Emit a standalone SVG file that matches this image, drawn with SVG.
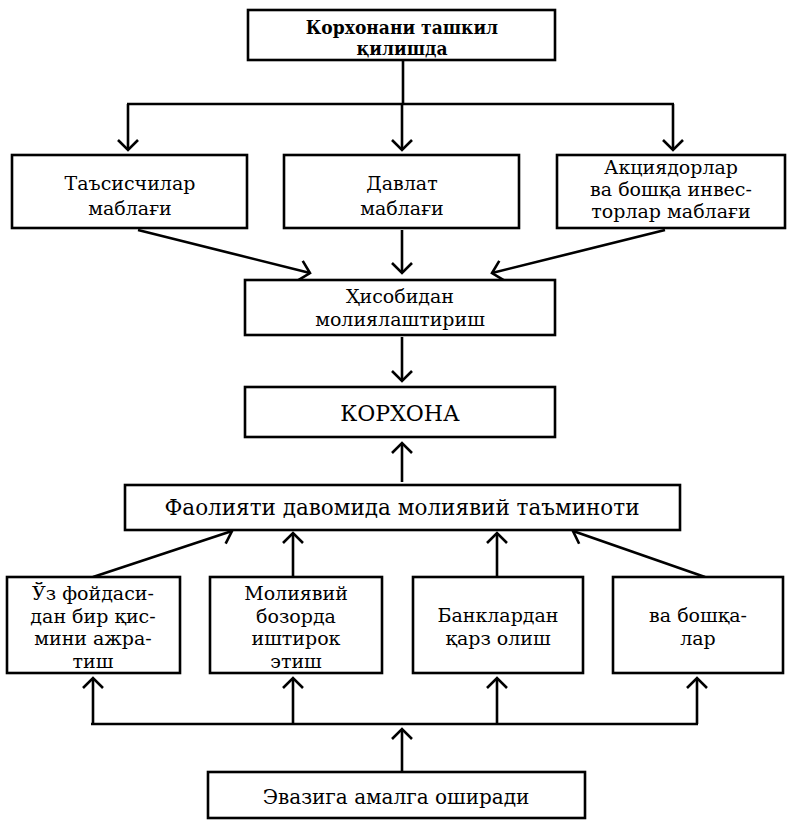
<svg xmlns="http://www.w3.org/2000/svg" width="790" height="820" viewBox="0 0 790 820">
<style>
.box{fill:#fff;stroke:#000;stroke-width:2.6}
.t{font-family:"DejaVu Serif","Liberation Serif",serif;font-size:19px;fill:#000;text-anchor:middle}
.s{font-size:20px}
.b{font-weight:bold;font-size:19px;font-stretch:condensed}
.c line{stroke:#000;stroke-width:2.6;fill:none}
.ar{marker-end:url(#ah)}
</style>
<defs>
<marker id="ah" markerUnits="userSpaceOnUse" markerWidth="24" markerHeight="24" viewBox="-12 -12 24 24" refX="0" refY="0" orient="auto">
<path d="M-10,-10 L0,0 L-10,10" fill="none" stroke="#000" stroke-width="2.6"/>
</marker>
</defs>
<rect width="790" height="820" fill="#fff"/>
<g class="c" id="connectors">
<line x1="403" y1="60" x2="403" y2="104"/>
<line x1="127" y1="104" x2="674" y2="104"/>
<line class="ar" x1="128" y1="104" x2="128" y2="150"/>
<line class="ar" x1="402" y1="104" x2="402" y2="150"/>
<line class="ar" x1="673" y1="104" x2="673" y2="150"/>
<line class="ar" x1="138" y1="230" x2="310" y2="273"/>
<line class="ar" x1="402" y1="230" x2="402" y2="273"/>
<line class="ar" x1="665" y1="230" x2="492" y2="273"/>
<line class="ar" x1="402" y1="337" x2="402" y2="381"/>
<line class="ar" x1="402" y1="482" x2="402" y2="443"/>
<line class="ar" x1="93" y1="577" x2="232" y2="531"/>
<line class="ar" x1="293" y1="577" x2="293" y2="533"/>
<line class="ar" x1="497" y1="577" x2="497" y2="533"/>
<line class="ar" x1="705" y1="577" x2="573" y2="531"/>
<line x1="91" y1="724" x2="698" y2="724"/>
<line class="ar" x1="93" y1="724" x2="93" y2="678"/>
<line class="ar" x1="293" y1="724" x2="293" y2="678"/>
<line class="ar" x1="497" y1="724" x2="497" y2="678"/>
<line class="ar" x1="697" y1="724" x2="697" y2="678"/>
<line class="ar" x1="402" y1="772" x2="402" y2="729"/>
</g>
<g id="n_top">
<rect class="box" x="248" y="10" width="307" height="50"/>
<text class="t b" x="402" y="34">Корхонани ташкил</text>
<text class="t b" x="402" y="55">қилишда</text>
</g>
<g id="n_tasis">
<rect class="box" x="12" y="155" width="235" height="73"/>
<text class="t" x="130" y="190">Таъсисчилар</text>
<text class="t" x="130" y="215">маблағи</text>
</g>
<g id="n_davlat">
<rect class="box" x="284" y="155" width="235" height="73"/>
<text class="t" x="402" y="190">Давлат</text>
<text class="t" x="402" y="215">маблағи</text>
</g>
<g id="n_aksiya">
<rect class="box" x="557" y="155" width="228" height="73"/>
<text class="t" x="671" y="174">Акциядорлар</text>
<text class="t" x="671" y="196">ва бошқа инвес-</text>
<text class="t" x="671" y="218">торлар маблағи</text>
</g>
<g id="n_hisob">
<rect class="box" x="245" y="280" width="310" height="55"/>
<text class="t" x="400" y="303">Ҳисобидан</text>
<text class="t" x="400" y="326">молиялаштириш</text>
</g>
<g id="n_korxona">
<rect class="box" x="245" y="387" width="310" height="50"/>
<text class="t" x="400" y="421" style="font-size:22px">КОРХОНА</text>
</g>
<g id="n_faol">
<rect class="box" x="125" y="485" width="555" height="45"/>
<text class="t" x="402" y="515" style="font-size:21.5px">Фаолияти давомида молиявий таъминоти</text>
</g>
<g id="n_uz">
<rect class="box" x="7" y="577" width="173" height="96"/>
<text class="t" x="93" y="600">Ўз фойдаси-</text>
<text class="t" x="93" y="622.5">дан бир қис-</text>
<text class="t" x="93" y="645">мини ажра-</text>
<text class="t" x="93" y="667.5">тиш</text>
</g>
<g id="n_moliyaviy">
<rect class="box" x="210" y="577" width="172" height="96"/>
<text class="t" x="296" y="600">Молиявий</text>
<text class="t" x="296" y="622.5">бозорда</text>
<text class="t" x="296" y="645">иштирок</text>
<text class="t" x="296" y="667.5">этиш</text>
</g>
<g id="n_bank">
<rect class="box" x="413" y="577" width="170" height="96"/>
<text class="t" x="498" y="622">Банклардан</text>
<text class="t" x="498" y="645">қарз олиш</text>
</g>
<g id="n_boshqa">
<rect class="box" x="613" y="577" width="170" height="96"/>
<text class="t" x="698" y="622">ва бошқа-</text>
<text class="t" x="698" y="645">лар</text>
</g>
<g id="n_evaz">
<rect class="box" x="208" y="772" width="377" height="46"/>
<text class="t s" x="396" y="804">Эвазига амалга оширади</text>
</g>
</svg>
